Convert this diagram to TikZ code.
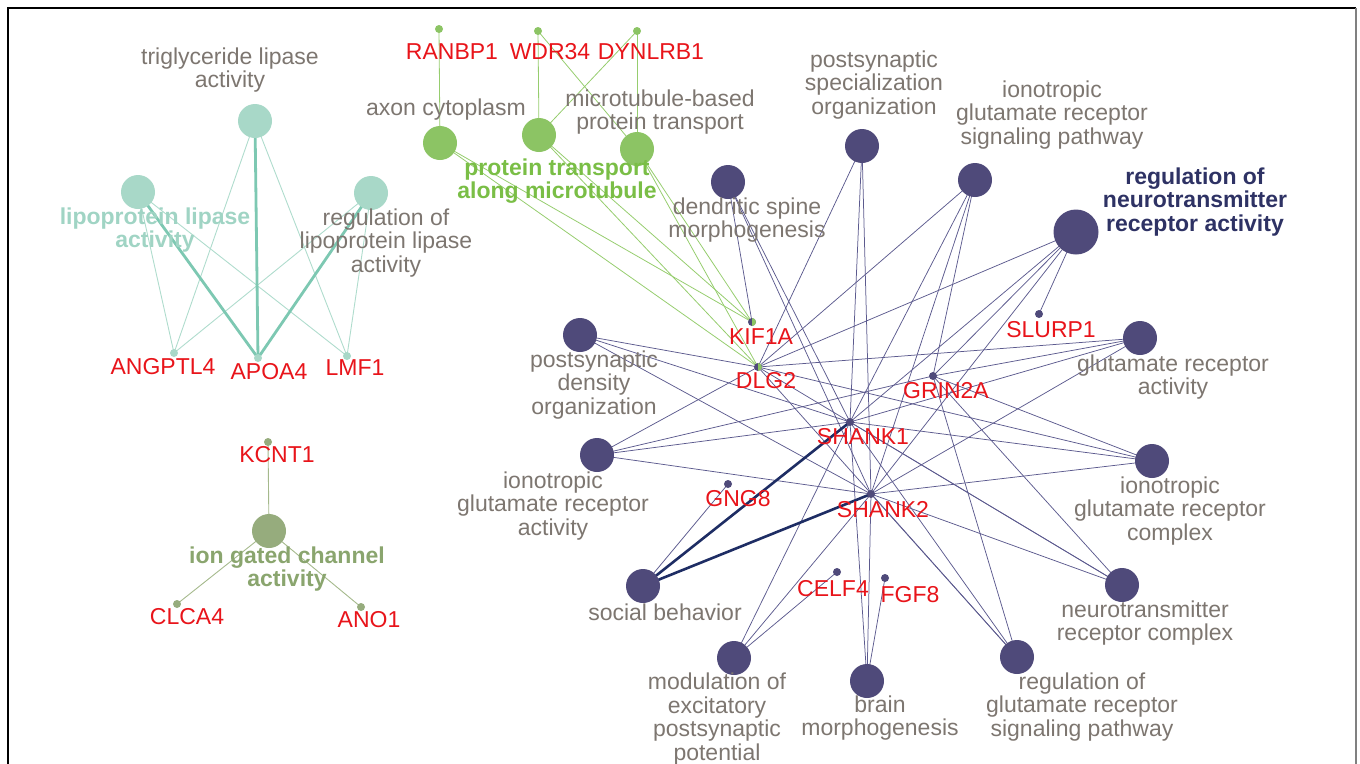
\documentclass[tikz,border=0pt]{standalone}
\usepackage{fontspec}
\setmainfont{Liberation Sans}
\definecolor{pnode}{RGB}{79,74,122}
\definecolor{pedgec}{RGB}{92,90,142}
\definecolor{navyc}{RGB}{30,45,100}
\definecolor{navylab}{RGB}{46,50,100}
\definecolor{gnode}{RGB}{140,196,100}
\definecolor{gedgec}{RGB}{150,205,110}
\definecolor{glab}{RGB}{122,190,70}
\definecolor{tnode}{RGB}{168,216,200}
\definecolor{tthickc}{RGB}{125,200,178}
\definecolor{tthinc}{RGB}{175,220,205}
\definecolor{tlab}{RGB}{160,212,196}
\definecolor{onode}{RGB}{150,172,125}
\definecolor{oedgec}{RGB}{165,185,140}
\definecolor{olab}{RGB}{138,165,110}
\definecolor{labgray}{RGB}{125,118,112}
\definecolor{genered}{RGB}{232,20,26}
\pgfdeclarelayer{bg}
\pgfdeclarelayer{fg}
\pgfsetlayers{bg,main,fg}
\tikzset{
  lbl/.style={font=\fontsize{23}{23.5}\selectfont, text=labgray, align=center, inner sep=0pt},
  blbl/.style={font=\fontsize{23}{23.5}\selectfont\bfseries, align=center, inner sep=0pt},
  gene/.style={font=\fontsize{23}{23.5}\selectfont, text=genered, inner sep=0pt},
  term/.style={circle, minimum size=34pt, inner sep=0pt, outer sep=0pt, draw=none},
  pterm/.style={term, fill=pnode},
  gterm/.style={term, fill=gnode},
  tterm/.style={term, fill=tnode},
  oterm/.style={term, fill=onode},
  dot/.style={circle, minimum size=8pt, inner sep=0pt, outer sep=0pt, draw=none},
  pdot/.style={dot, fill=pnode},
  gdot/.style={dot, fill=gnode},
  tdot/.style={dot, fill=tnode},
  odot/.style={dot, fill=onode},
  pedge/.style={draw=pedgec, line width=0.75pt},
  pthick/.style={draw=navyc, line width=2.6pt},
  gedge/.style={draw=gedgec, line width=0.8pt},
  tthin/.style={draw=tthinc, line width=0.9pt},
  tthick/.style={draw=tthickc, line width=2.8pt},
  oedge/.style={draw=oedgec, line width=0.9pt}
}
\begin{document}
\begin{tikzpicture}[x=1pt,y=-1pt]
\useasboundingbox (0,0) rectangle (1360,763);

% purple term nodes
\node[pterm] (pso) at (862,146) {};
\node[pterm] (igrsp) at (975,180) {};
\node[pterm, minimum size=45pt] (rnra) at (1076,232) {};
\node[pterm] (dsm) at (728,182) {};
\node[pterm] (pdo) at (580,335) {};
\node[pterm] (gra) at (1140,338) {};
\node[pterm] (igra) at (597,455) {};
\node[pterm] (igrc) at (1152,461) {};
\node[pterm] (sb) at (643,586) {};
\node[pterm] (nrc) at (1122,585) {};
\node[pterm] (mepsp) at (734,658) {};
\node[pterm] (bm) at (867,681) {};
\node[pterm] (rgrsp) at (1017,657) {};
% purple genes
\node[pdot] (KIF1A) at (752,322) {};
\node[pdot] (DLG2) at (758,367) {};
\node[pdot] (GRIN2A) at (933,376) {};
\node[pdot] (SLURP1) at (1039,314) {};
\node[pdot] (SHANK1) at (850,422) {};
\node[pdot] (SHANK2) at (871,494) {};
\node[pdot] (GNG8) at (728,484) {};
\node[pdot] (CELF4) at (837,572) {};
\node[pdot] (FGF8) at (885,578) {};
\fill[gnode] (KIF1A.north) arc[start angle=-90, end angle=90, radius=4] -- cycle;
\fill[gnode] (DLG2.north) arc[start angle=-90, end angle=90, radius=4] -- cycle;
% green
\node[gterm] (ac) at (440,143) {};
\node[gterm] (ptam) at (539,135) {};
\node[gterm] (mbpt) at (637,149) {};
\node[gdot] (RANBP1) at (439,29) {};
\node[gdot] (WDR34) at (538,31) {};
\node[gdot] (DYNLRB1) at (637,31) {};
% teal
\node[tterm] (tla) at (255,121) {};
\node[tterm] (lla) at (138,192) {};
\node[tterm] (rlla) at (371,193) {};
\node[tdot] (ANGPTL4) at (174,353) {};
\node[tdot] (APOA4) at (258,358) {};
\node[tdot] (LMF1) at (347,356) {};
% olive
\node[oterm] (igca) at (269,531) {};
\node[odot] (KCNT1) at (268,442) {};
\node[odot] (CLCA4) at (177,604) {};
\node[odot] (ANO1) at (361,607) {};

\draw[black, line width=1.3pt] (8,780) -- (8,8) -- (1356,8);
\draw[gray, line width=2pt] (1356,8) -- (1356,780);

\begin{pgfonlayer}{bg}
\foreach \t/\g in {pso/DLG2, pso/SHANK1, pso/SHANK2,
  igrsp/DLG2, igrsp/GRIN2A, igrsp/SHANK1, igrsp/SHANK2,
  rnra/DLG2, rnra/GRIN2A, rnra/SHANK1, rnra/SHANK2, rnra/SLURP1,
  dsm/KIF1A, dsm/SHANK1, dsm/SHANK2,
  pdo/DLG2, pdo/SHANK1, pdo/SHANK2,
  gra/DLG2, gra/GRIN2A, gra/SHANK1, gra/SHANK2,
  igra/DLG2, igra/GRIN2A, igra/SHANK1, igra/SHANK2,
  igrc/DLG2, igrc/GRIN2A, igrc/SHANK1, igrc/SHANK2,
  sb/GNG8,
  nrc/DLG2, nrc/GRIN2A, nrc/SHANK1, nrc/SHANK2,
  mepsp/SHANK1, mepsp/SHANK2, mepsp/CELF4,
  bm/SHANK1, bm/SHANK2, bm/FGF8,
  rgrsp/DLG2, rgrsp/GRIN2A, rgrsp/SHANK1, rgrsp/SHANK2}
  \draw[pedge] (\t.center) -- (\g.center);
\draw[pthick] (sb.center) -- (SHANK1.center);
\draw[pthick] (sb.center) -- (SHANK2.center);
\foreach \t/\g in {ac/RANBP1, ptam/WDR34, mbpt/WDR34, mbpt/DYNLRB1, ptam/DYNLRB1,
  ac/KIF1A, ac/DLG2, ptam/KIF1A, ptam/DLG2, mbpt/KIF1A, mbpt/DLG2}
  \draw[gedge] (\t.center) -- (\g.center);
\foreach \t/\g in {tla/ANGPTL4, lla/ANGPTL4, rlla/ANGPTL4, tla/LMF1, lla/LMF1, rlla/LMF1}
  \draw[tthin] (\t.center) -- (\g.center);
\foreach \t in {tla, lla, rlla}
  \draw[tthick] (\t.center) -- (APOA4.center);
\foreach \g in {KCNT1, CLCA4, ANO1}
  \draw[oedge] (igca.center) -- (\g.center);
\end{pgfonlayer}

\begin{pgfonlayer}{fg}
% purple labels
\node[lbl] (pso-t) at (874,85) {postsynaptic\\specialization\\organization};
\node[lbl] (igrsp-t) at (1052,115) {ionotropic\\glutamate receptor\\signaling pathway};
\node[blbl, text=navylab] (rnra-t) at (1195,202) {regulation of\\neurotransmitter\\receptor activity};
\node[lbl] (dsm-t) at (747,220) {dendritic spine\\morphogenesis};
\node[lbl] (pdo-t) at (594,385) {postsynaptic\\density\\organization};
\node[lbl] (gra-t) at (1173,377) {glutamate receptor\\activity};
\node[lbl] (igra-t) at (553,506) {ionotropic\\glutamate receptor\\activity};
\node[lbl] (igrc-t) at (1170,511) {ionotropic\\glutamate receptor\\complex};
\node[lbl] (sb-t) at (665,612) {social behavior};
\node[lbl] (nrc-t) at (1145,623) {neurotransmitter\\receptor complex};
\node[lbl] (mepsp-t) at (717,719) {modulation of\\excitatory\\postsynaptic\\potential};
\node[lbl] (bm-t) at (880,718) {brain\\morphogenesis};
\node[lbl] (rgrsp-t) at (1082,707) {regulation of\\glutamate receptor\\signaling pathway};
% gene labels
\node[gene] (KIF1A-t) at (761,337) {KIF1A};
\node[gene] (DLG2-t) at (766,381) {DLG2};
\node[gene] (GRIN2A-t) at (946,391) {GRIN2A};
\node[gene] (SLURP1-t) at (1051,330) {SLURP1};
\node[gene] (SHANK1-t) at (863,437) {SHANK1};
\node[gene] (SHANK2-t) at (883,510) {SHANK2};
\node[gene] (GNG8-t) at (738,499) {GNG8};
\node[gene] (CELF4-t) at (833,589) {CELF4};
\node[gene] (FGF8-t) at (910,595) {FGF8};
\node[gene] (RANBP1-t) at (452,52) {RANBP1};
\node[gene] (WDR34-t) at (550,52) {WDR34};
\node[gene] (DYNLRB1-t) at (651,52) {DYNLRB1};
\node[gene] (ANGPTL4-t) at (163,367) {ANGPTL4};
\node[gene] (APOA4-t) at (269,372) {APOA4};
\node[gene] (LMF1-t) at (355,368) {LMF1};
\node[gene] (KCNT1-t) at (277,455) {KCNT1};
\node[gene] (CLCA4-t) at (187,617) {CLCA4};
\node[gene] (ANO1-t) at (369,620) {ANO1};
% green labels
\node[lbl] (ac-t) at (446,110) {axon cytoplasm};
\node[lbl] (mbpt-t) at (660,112) {microtubule-based\\protein transport};
\node[blbl, text=glab] (ptam-t) at (557,181) {protein transport\\along microtubule};
% teal labels
\node[lbl] (tla-t) at (230,70) {triglyceride lipase\\activity};
\node[blbl, text=tlab] (lla-t) at (155,230) {lipoprotein lipase\\activity};
\node[lbl] (rlla-t) at (386,243) {regulation of\\lipoprotein lipase\\activity};
% olive label
\node[blbl, text=olab] (igca-t) at (287,569) {ion gated channel\\activity};
\end{pgfonlayer}
\end{tikzpicture}
\end{document}
